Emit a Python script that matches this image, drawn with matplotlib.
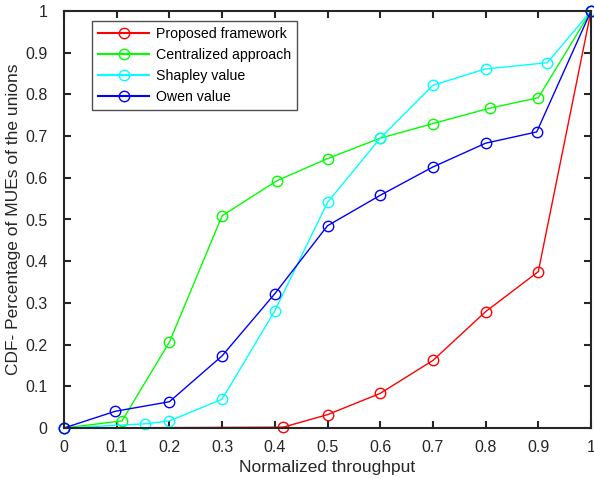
import matplotlib
matplotlib.use("Agg")
import matplotlib.pyplot as plt

plt.rcParams["font.family"] = ["Liberation Sans", "DejaVu Sans"]

proposed_x = [0, 0.416, 0.5, 0.6, 0.7, 0.8, 0.9, 1.0]
proposed_y = [0, 0.002, 0.032, 0.083, 0.162, 0.279, 0.375, 1.0]

central_x = [0, 0.11, 0.2, 0.3, 0.404, 0.5, 0.6, 0.7, 0.808, 0.9, 1.0]
central_y = [0, 0.017, 0.206, 0.509, 0.593, 0.646, 0.695, 0.730, 0.767, 0.792, 1.0]

shapley_x = [0, 0.154, 0.2, 0.3, 0.4, 0.5, 0.6, 0.7, 0.8, 0.917, 1.0]
shapley_y = [0, 0.010, 0.017, 0.069, 0.281, 0.541, 0.695, 0.822, 0.861, 0.876, 1.0]

owen_x = [0, 0.097, 0.2, 0.3, 0.4, 0.5, 0.6, 0.7, 0.8, 0.897, 1.0]
owen_y = [0, 0.040, 0.063, 0.173, 0.322, 0.485, 0.558, 0.626, 0.683, 0.710, 1.0]

labels = ["Proposed framework", "Centralized approach", "Shapley value", "Owen value"]
colors = ["#ff0000", "#00ff00", "#00ffff", "#0000ff"]

xticks = [0, 0.1, 0.2, 0.3, 0.4, 0.5, 0.6, 0.7, 0.8, 0.9, 1]
yticks = [0, 0.1, 0.2, 0.3, 0.4, 0.5, 0.6, 0.7, 0.8, 0.9, 1]

fig = plt.figure(figsize=(5.94, 4.79), dpi=100)
ax = fig.add_axes([64 / 594, 51 / 479, 527 / 594, 417 / 479])

series = [(proposed_x, proposed_y), (central_x, central_y),
          (shapley_x, shapley_y), (owen_x, owen_y)]
for (xs, ys), lab, c in zip(series, labels, colors):
    ax.plot(xs, ys, "-o", color=c, label=lab, lw=1.0, ms=7.5,
            mfc="none", mec=c, mew=1.0, clip_on=False)

ax.set_xlim(0, 1)
ax.set_ylim(0, 1)
ax.set_xticks(xticks)
ax.set_yticks(yticks)
ax.set_xticklabels([("%g" % t) for t in xticks])
ax.set_yticklabels([("%g" % t) for t in yticks])
ax.tick_params(direction="in", top=True, right=True, length=5, width=1.5,
               labelsize=11.5, colors="#262626")
ax.tick_params(axis="x", pad=9)
ax.tick_params(axis="y", pad=12)
for sp in ax.spines.values():
    sp.set_linewidth(1.5)
    sp.set_color("#262626")

ax.set_xlabel("Normalized throughput", fontsize=12.5, color="#262626", labelpad=3)
ax.set_ylabel("CDF- Percentage of MUEs of the unions", fontsize=12.5,
              color="#262626", labelpad=3)

leg = ax.legend(loc="upper left", bbox_to_anchor=(0.053, 0.976), fontsize=10.2,
                frameon=True, fancybox=False, edgecolor="#262626",
                borderaxespad=0, handlelength=3.6, borderpad=0.45,
                labelspacing=0.48, handletextpad=0.45)
leg.get_frame().set_linewidth(1.0)
for line in leg.get_lines():
    line.set_linewidth(1.5)

fig.savefig("out.png", dpi=100)
